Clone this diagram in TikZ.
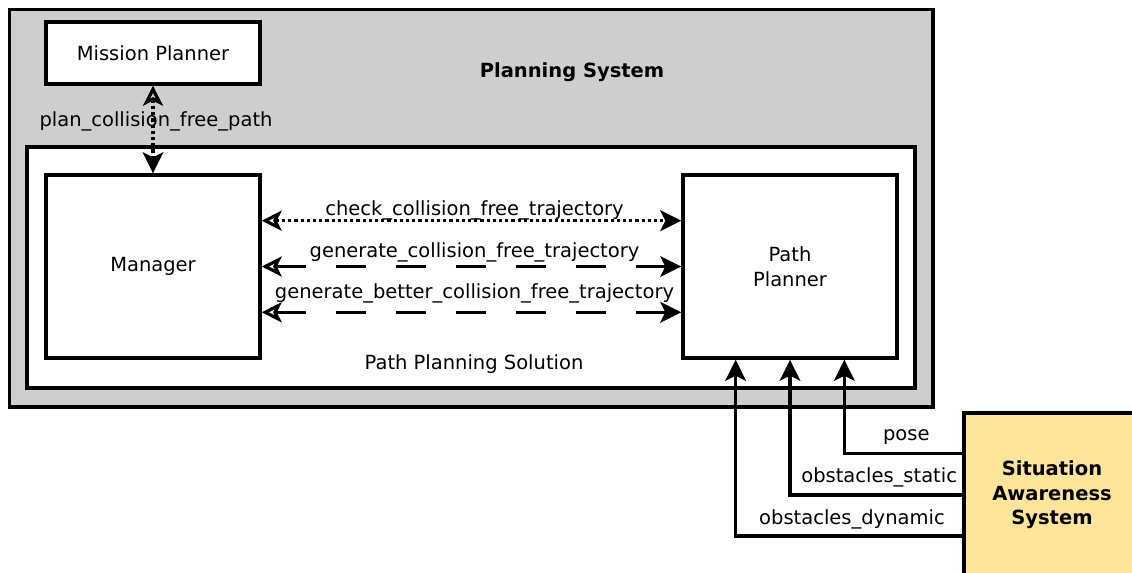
\documentclass[tikz,border=0pt]{standalone}
\usepackage{fontspec}
\setmainfont{DejaVu Sans}
\usepackage{tikz}
\usetikzlibrary{calc,positioning,arrows.meta}
\definecolor{sysGray}{RGB}{207,206,205}
\definecolor{sasYellow}{RGB}{255,229,153}
\tikzstyle{box} = [rectangle, draw=black, line width=1.7pt, fill=white, align=center, text centered]
\tikzstyle{arrow} = [line width=1.6pt, -{Stealth[length=10.5pt, width=10.3pt, inset=2.5pt]}]
\tikzstyle{biarrow} = [line width=1.6pt, {Stealth[open, length=10pt, width=10pt, inset=2.5pt]}-{Stealth[length=10.5pt, width=10.3pt, inset=2.5pt]}]
\tikzstyle{dotline} = [dash pattern=on 1.6pt off 1.5pt]
\tikzstyle{dashline} = [dash pattern=on 15pt off 15pt]

\begin{document}
\begin{tikzpicture}[x=0.5pt, y=-0.5pt]
\tikzset{%
	every node/.style = { font=\fontsize{9.75}{12.3}\selectfont },
	system/.style = { box, fill=sysGray, minimum width=461.9pt, minimum height=198.9pt },
	solution/.style = { box, minimum width=444pt, minimum height=120.5pt },
	block/.style = { box, minimum width=107pt, minimum height=91.5pt },
	part/.style = { box, minimum width=107pt, minimum height=31pt },
	sensor/.style = { box, fill=sasYellow, font=\fontsize{9.75}{12.3}\selectfont\bfseries, minimum width=88pt, minimum height=82pt },
	tag/.style = { inner sep=0pt, anchor=base, xshift=1.5pt }
}
\useasboundingbox (0,0) rectangle (1132,573);

\node(PlanningSystem)	[system] at (471.1,208.1) {};
\node(SystemTitle)		[anchor=base, font=\fontsize{9.75}{12.3}\selectfont\bfseries] at (572,77.7)
								{Planning System};
\node(Solution)			[solution] at (471,267.5) {};
\node(SolutionTitle)	at (474,364)
								{Path Planning Solution};

\node(Manager)			[block] at (153,266.5)
								{Manager};
\node(PathPlanner)		[block, right=209.8pt of Manager.east]
								{Path\\Planner};
\node(MissionPlanner)	[part, above=43.8pt of Manager.north]
								{Mission Planner};
\node(Awareness)		[sensor] at (1052,495)
								{Situation\\Awareness\\System};

\coordinate(DynamicIn)	at ($(PathPlanner.south west)!0.25!(PathPlanner.south east)$);
\coordinate(StaticIn)	at (PathPlanner.south);
\coordinate(PoseIn)		at ($(PathPlanner.south west)!0.75!(PathPlanner.south east)$);

\draw [biarrow, dotline]	(MissionPlanner.south) --
								node[tag, pos=0.47] {plan\_collision\_free\_path}
							(Manager.north);

\draw [biarrow, dotline]	([yshift=22.9pt]Manager.east) --
								node[tag, yshift=2.5pt] {check\_collision\_free\_trajectory}
							([yshift=22.9pt]PathPlanner.west);
\draw [biarrow, dashline]	(Manager.east) --
								node[tag, yshift=4.7pt] {generate\_collision\_free\_trajectory}
							(PathPlanner.west);
\draw [biarrow, dashline]	([yshift=-22.9pt]Manager.east) --
								node[tag, yshift=7pt] {generate\_better\_collision\_free\_trajectory}
							([yshift=-22.9pt]PathPlanner.west);

\draw [arrow]	([yshift=20.75pt]Awareness.west) -|
					node[tag, pos=0.25, yshift=6.5pt] {pose}
				(PoseIn);
\draw [arrow]	(Awareness.west) -|
					node[tag, pos=0.25, yshift=6.5pt] {obstacles\_static}
				(StaticIn);
\draw [arrow]	([yshift=-20.5pt]Awareness.west) -|
					node[tag, pos=0.25, yshift=5.8pt] {obstacles\_dynamic}
				(DynamicIn);

\end{tikzpicture}
\end{document}
